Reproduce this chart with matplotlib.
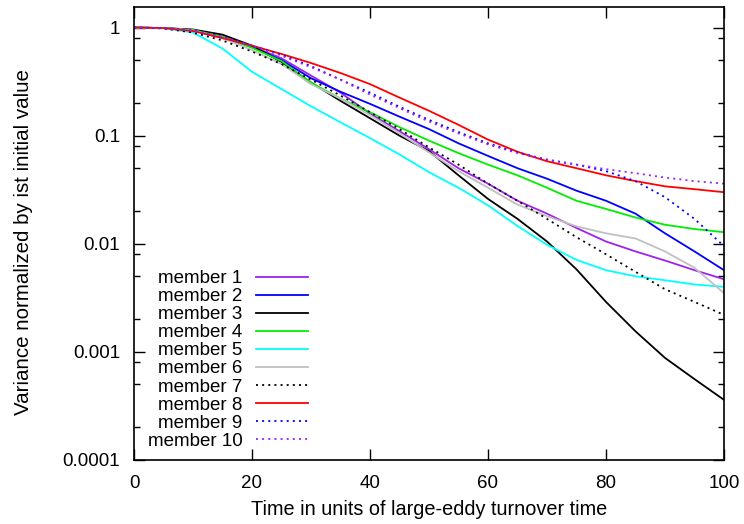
import matplotlib
matplotlib.use("Agg")
import matplotlib.pyplot as plt
from matplotlib.ticker import LogLocator, FixedLocator, NullFormatter, FixedFormatter

plt.rcParams['font.family'] = ['Liberation Sans', 'DejaVu Sans']

time = [0, 5, 10, 15, 20, 25, 30, 35, 40, 45, 50, 55, 60, 65, 70, 75, 80, 85, 90, 95, 100]

member1 = [1.0, 0.99, 0.95, 0.82, 0.67, 0.52, 0.36, 0.25, 0.16, 0.11, 0.075, 0.05, 0.036, 0.025, 0.019, 0.014, 0.0105, 0.0085, 0.007, 0.0057, 0.0047]
member2 = [1.0, 0.99, 0.94, 0.8, 0.66, 0.5, 0.34, 0.255, 0.197, 0.15, 0.115, 0.085, 0.065, 0.05, 0.04, 0.031, 0.025, 0.019, 0.0125, 0.0085, 0.0057]
member3 = [1.0, 0.99, 0.96, 0.86, 0.68, 0.48, 0.31, 0.21, 0.145, 0.1, 0.072, 0.043, 0.026, 0.017, 0.0105, 0.0058, 0.0029, 0.00155, 0.00088, 0.00056, 0.00036]
member4 = [1.0, 0.99, 0.95, 0.82, 0.65, 0.49, 0.31, 0.22, 0.165, 0.12, 0.09, 0.069, 0.054, 0.043, 0.033, 0.025, 0.021, 0.0175, 0.015, 0.0137, 0.0128]
member5 = [1.0, 0.99, 0.9, 0.64, 0.39, 0.27, 0.187, 0.133, 0.095, 0.067, 0.046, 0.033, 0.0227, 0.0146, 0.0098, 0.0071, 0.0057, 0.005, 0.0046, 0.0042, 0.004]
member6 = [1.0, 0.99, 0.94, 0.8, 0.62, 0.46, 0.3, 0.22, 0.155, 0.105, 0.07, 0.047, 0.033, 0.023, 0.018, 0.0145, 0.0125, 0.0112, 0.0085, 0.006, 0.0035]
member7 = [1.0, 0.98, 0.9, 0.76, 0.6, 0.46, 0.33, 0.235, 0.165, 0.115, 0.078, 0.054, 0.036, 0.025, 0.017, 0.0115, 0.008, 0.0055, 0.0038, 0.0029, 0.0022]
member8 = [1.0, 0.99, 0.93, 0.8, 0.68, 0.57, 0.47, 0.38, 0.3, 0.225, 0.17, 0.126, 0.092, 0.071, 0.058, 0.05, 0.043, 0.038, 0.034, 0.032, 0.030]
member9 = [1.0, 0.99, 0.94, 0.82, 0.68, 0.56, 0.44, 0.33, 0.25, 0.185, 0.14, 0.108, 0.085, 0.07, 0.06, 0.054, 0.047, 0.038, 0.027, 0.017, 0.0095]
member10 = [1.0, 0.99, 0.94, 0.82, 0.68, 0.55, 0.43, 0.33, 0.24, 0.18, 0.135, 0.105, 0.083, 0.069, 0.06, 0.054, 0.049, 0.045, 0.041, 0.038, 0.036]

series = [member1, member2, member3, member4, member5, member6, member7, member8, member9, member10]
labels = ["member 1", "member 2", "member 3", "member 4", "member 5",
          "member 6", "member 7", "member 8", "member 9", "member 10"]
colors = ["#a020f0", "#0000ff", "#000000", "#00ee00", "#00ffff",
          "#c0c0c0", "#000000", "#ff0000", "#0000ff", "#a020f0"]
dot = (0, (1.1, 2.3))
styles = ["-", "-", "-", "-", "-", "-", dot, "-", dot, dot]

xticks = [0, 20, 40, 60, 80, 100]
yticks = [1e-4, 1e-3, 1e-2, 1e-1, 1]
ytick_labels = ["0.0001", "0.001", "0.01", "0.1", "1"]

fig = plt.figure(figsize=(7.44, 5.24), dpi=100)
ax = fig.add_axes([134/744, 1 - 460/524, 590/744, 453/524])

for y, lab, c, ls in zip(series, labels, colors, styles):
    ax.plot(time, y, color=c, linestyle=ls, lw=1.3, label=lab)

ax.set_yscale('log')
ax.set_xlim(0, 100)
ax.set_ylim(1e-4, 1.55)
ax.xaxis.set_major_locator(FixedLocator(xticks))
ax.yaxis.set_major_locator(FixedLocator(yticks))
ax.yaxis.set_major_formatter(FixedFormatter(ytick_labels))
ax.yaxis.set_minor_locator(LogLocator(base=10, subs=[2, 5, 8]))
ax.yaxis.set_minor_formatter(NullFormatter())
ax.tick_params(which='both', direction='in', top=True, right=True, labelsize=13.5, width=1)
ax.tick_params(axis='x', pad=11)
ax.tick_params(axis='y', pad=10)
ax.tick_params(which='major', length=8)
ax.tick_params(which='minor', length=4.5)
for s in ax.spines.values():
    s.set_linewidth(1.2)

ax.set_xlabel("Time in units of large-eddy turnover time", fontsize=14.3)
ax.set_ylabel("Variance normalized by ist initial value", fontsize=14.8)
ax.xaxis.set_label_coords(0.5, -0.088)
ax.yaxis.set_label_coords(-0.172, 0.48)

leg = ax.legend(loc='upper right', bbox_to_anchor=((308-134)/590, (460-270)/453),
                frameon=False, markerfirst=False, fontsize=13.5, handlelength=2.8,
                handletextpad=0.7, labelspacing=0.05, borderpad=0, borderaxespad=0)

fig.savefig("out.png", dpi=100)
